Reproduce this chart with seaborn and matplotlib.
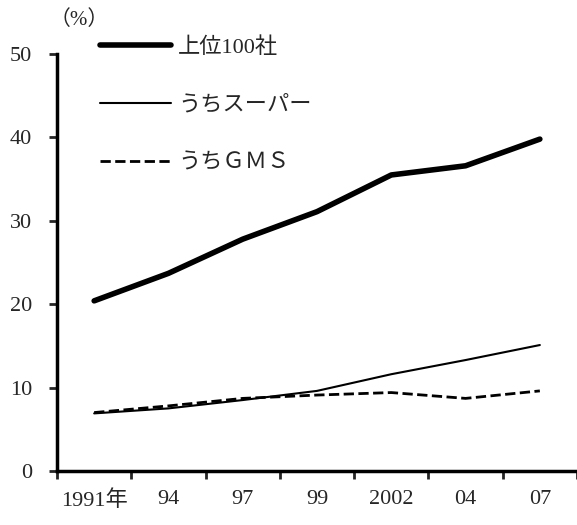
import numpy as np
import pandas as pd
import seaborn as sns
import matplotlib.pyplot as plt

years = ['1991年', '94', '97', '99', '2002', '04', '07']
top100 = [20.4, 23.7, 27.8, 31.1, 35.5, 36.6, 39.8]
super_ = [6.9, 7.5, 8.5, 9.6, 11.6, 13.3, 15.1]
gms = [7.0, 7.8, 8.7, 9.1, 9.4, 8.7, 9.6]

sns.set_theme(style='white')
plt.rcParams['font.family'] = ['Liberation Serif', 'Noto Sans CJK JP']

fig = plt.figure(figsize=(5.77, 5.25), dpi=100)
ax = fig.add_axes([0.0988, 0.103, 0.9012, 0.794])

pos = np.arange(len(years))
sns.lineplot(x=pos, y=top100, ax=ax, color='black', lw=4.0, label='上位100社')
sns.lineplot(x=pos, y=super_, ax=ax, color='black', lw=1.5, label='うちスーパー')
sns.lineplot(x=pos, y=gms, ax=ax, color='black', lw=2.0, label='うちＧＭＳ',
             dashes=(5, 3.5), linestyle='--')

ax.set_xlim(-0.5, len(years) - 0.5)
ax.set_ylim(0, 50)
ax.set_yticks(range(0, 51, 10))
ax.set_xticks(np.arange(len(years) + 1) - 0.5)
ax.set_xticklabels([])
ax.set_xticks(pos, minor=True)
ax.set_xticklabels(years, minor=True)
ax.tick_params(axis='x', which='minor', length=0, pad=14, labelsize=16)
ax.tick_params(axis='x', which='major', length=6, width=2, direction='out', bottom=True)
ax.tick_params(axis='y', length=6, width=2, direction='out', left=True, labelsize=16, pad=12)

for s in ['top', 'right']:
    ax.spines[s].set_visible(False)
for s in ['left', 'bottom']:
    ax.spines[s].set_linewidth(2.5)
    ax.spines[s].set_color('black')
ax.set_xlabel('')
ax.set_ylabel('')

fig.text(0.085, 0.962, '（%）', fontsize=15, ha='left', va='center')

leg = ax.legend(loc='upper left', bbox_to_anchor=(0.083, 1.041), frameon=False,
                fontsize=16, handlelength=3.2, handletextpad=0.3, labelspacing=1.68,
                borderaxespad=0, borderpad=0)

fig.savefig('out.png', dpi=100)
